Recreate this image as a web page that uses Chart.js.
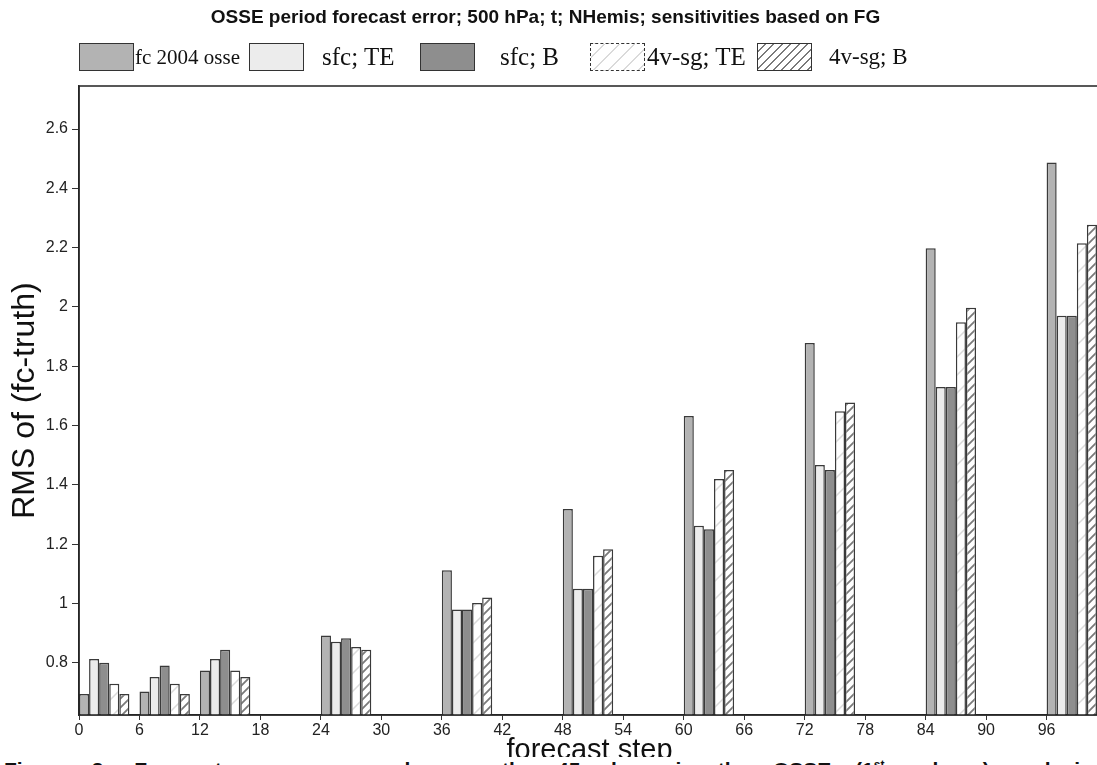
<!DOCTYPE html>
<html>
<head>
<meta charset="utf-8">
<script src="https://cdn.jsdelivr.net/npm/chart.js@4/dist/chart.umd.min.js"></script>
<style>
  html, body { margin: 0; padding: 0; background: #fff; overflow: hidden; }
  #wrap { position: relative; width: 1097px; height: 765px; overflow: hidden; }
  #c { position: absolute; left: 0; top: 0; }
  #title {
    position: absolute; top: 6px; left: 0; width: 1091px; text-align: center;
    font: bold 19px "Liberation Sans", Arial, sans-serif; color: #111;
  }
  .sw { position: absolute; top: 43px; width: 55px; height: 28px; box-sizing: border-box; border: 1.5px solid #333; }
  .lab { position: absolute; top: 43px; line-height: 28px; white-space: nowrap;
         font-family: "Liberation Serif", "Times New Roman", serif; color: #111; }
  #caption {
    position: absolute; top: 757px; left: 0; width: 1097px; height: 30px; background: #fff;
    font: bold 21px/16px "Liberation Sans", Arial, sans-serif; color: #111;
    text-align: justify; text-align-last: justify; white-space: nowrap; padding: 0 4px; box-sizing: border-box;
  }
</style>
</head>
<body>
<div id="wrap">
  <canvas id="c" width="1104" height="765"></canvas>
  <div id="title">OSSE period forecast error; 500 hPa; t; NHemis; sensitivities based on FG</div>
  <div id="legend"></div>
  <div id="caption">Figure 3: Forecast error averaged over the 45 days in the OSSE (1<sup style="font-size:12px">st</sup> column) and in</div>
</div>
<script>
// forecast steps (hours) and RMS values
const steps = [0, 6, 12, 24, 36, 48, 60, 72, 84, 96];
const fc2004osse = [0.695, 0.703, 0.774, 0.892, 1.112, 1.319, 1.632, 1.878, 2.198, 2.487];
const sfcTE = [0.813, 0.752, 0.813, 0.871, 0.98, 1.05, 1.262, 1.467, 1.73, 1.97];
const sfcB = [0.80, 0.791, 0.844, 0.883, 0.98, 1.05, 1.25, 1.45, 1.73, 1.97];
const vsgTE = [0.729, 0.729, 0.774, 0.853, 1.002, 1.161, 1.42, 1.648, 1.948, 2.215];
const vsgB = [0.695, 0.695, 0.752, 0.844, 1.02, 1.183, 1.45, 1.678, 1.997, 2.277];
const seriesNames = ['fc 2004 osse', 'sfc; TE', 'sfc; B', '4v-sg; TE', '4v-sg; B'];

function hatch(color, gap, lw) {
    const c = document.createElement('canvas');
    c.width = gap; c.height = gap;
    const g = c.getContext('2d');
    g.fillStyle = '#fff';
    g.fillRect(0, 0, gap, gap);
    g.strokeStyle = color;
    g.lineWidth = lw;
    g.beginPath();
    g.moveTo(-1, gap + 1); g.lineTo(gap + 1, -1);
    g.moveTo(-2, 2); g.lineTo(2, -2);
    g.moveTo(gap - 2, gap + 2); g.lineTo(gap + 2, gap - 2);
    g.stroke();
    return g.createPattern(c, 'repeat');
}

const fills = ['#b3b3b3', '#ececec', '#8e8e8e', hatch('#dadada', 18, 1.5), hatch('#7a7a7a', 9, 1.8)];
const swatchCss = [
    'background:#b3b3b3',
    'background:#ececec',
    'background:#8e8e8e',
    'background:repeating-linear-gradient(135deg,#fff 0 9px,#dadada 9px 10.5px);border-style:dashed',
    'background:repeating-linear-gradient(135deg,#fff 0 4.5px,#7a7a7a 4.5px 6px)'
];
// legend layout: swatch left, label left, label font size
const swatchLeft = [79, 249, 420, 590, 757];
const labelLeft = [135, 322, 500, 647, 829];
const labelSize = [21, 25, 25, 25, 23];

const legend = document.getElementById('legend');
seriesNames.forEach((name, i) => {
    const sw = document.createElement('div');
    sw.className = 'sw';
    sw.style.cssText = swatchCss[i] + `;left:${swatchLeft[i]}px`;
    const lab = document.createElement('span');
    lab.className = 'lab';
    lab.style.cssText = `left:${labelLeft[i]}px;font-size:${labelSize[i]}px`;
    lab.textContent = name;
    legend.appendChild(sw);
    legend.appendChild(lab);
});

// bars of a group start at the step value, so the group centre sits 2.5 steps to the right
const seriesValues = [fc2004osse, sfcTE, sfcB, vsgTE, vsgB];
const datasets = seriesValues.map((vals, i) => ({
    label: seriesNames[i],
    data: steps.map((s, j) => ({ x: s + 2.5, y: vals[j] })),
    backgroundColor: fills[i],
    borderColor: '#3a3a3a',
    borderWidth: 1.5,
    categoryPercentage: 5 / 6,
    barPercentage: 1
}));

const frame = {
    id: 'frame',
    afterDatasetsDraw(chart) {
        const a = chart.chartArea, ctx = chart.ctx;
        ctx.save();
        ctx.strokeStyle = '#222';
        ctx.lineWidth = 1.5;
        ctx.strokeRect(a.left, a.top, a.right - a.left, a.bottom - a.top);
        ctx.restore();
    }
};

new Chart(document.getElementById('c'), {
    type: 'bar',
    data: { datasets: datasets },
    plugins: [frame],
    options: {
        responsive: false,
        animation: false,
        layout: { padding: { top: 86, right: 4, bottom: 0, left: 0 } },
        plugins: { legend: { display: false }, tooltip: { enabled: false } },
        scales: {
            x: {
                type: 'linear',
                min: 0,
                max: 101.3,
                offset: false,
                afterFit: s => { s.height = 50; },
                grid: { display: true, drawOnChartArea: false, drawTicks: true, tickLength: 5, color: '#333', offset: false },
                border: { display: true, color: '#333', width: 1.5 },
                ticks: { stepSize: 6, includeBounds: false, color: '#222', padding: 1, maxRotation: 0,
                         font: { family: 'Liberation Sans', size: 16 } },
                title: { display: true, text: 'forecast step', color: '#111',
                         font: { family: 'Liberation Sans', size: 29, lineHeight: 0.8 }, padding: { top: 0, bottom: 2 } }
            },
            y: {
                min: 0.624,
                max: 2.745,
                afterFit: s => { s.width = 79; },
                grid: { display: true, drawOnChartArea: false, drawTicks: true, tickLength: 7, color: '#333' },
                border: { display: true, color: '#333', width: 1.5 },
                ticks: { stepSize: 0.2, includeBounds: false, color: '#222', padding: 4,
                         font: { family: 'Liberation Sans', size: 16 },
                         callback: v => String(+v.toFixed(1)) },
                title: { display: true, text: 'RMS of (fc-truth)', color: '#111',
                         font: { family: 'Liberation Sans', size: 32, lineHeight: 1 }, padding: { top: 9, bottom: 0 } }
            }
        }
    }
});
</script>
</body>
</html>
